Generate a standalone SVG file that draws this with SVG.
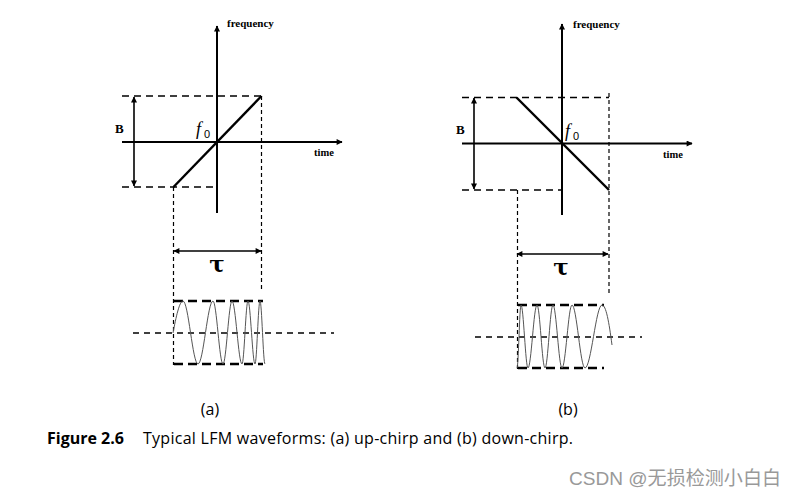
<svg xmlns="http://www.w3.org/2000/svg" width="793" height="496" viewBox="0 0 793 496">
<style>
.ax{stroke:#000;stroke-width:2;fill:none}
.hg{stroke:#000;stroke-width:1.5;stroke-dasharray:7 5;fill:none}
.vg{stroke:#000;stroke-width:1.2;stroke-dasharray:4 3;fill:none}
.rc{stroke:#000;stroke-width:2.6;stroke-dasharray:9 5;fill:none}
.ml{stroke:#000;stroke-width:1.6;stroke-dasharray:6 5;fill:none}
.ch{stroke:#000;stroke-width:2.4;fill:none}
.ar{stroke:#000;stroke-width:1.6;fill:none}
.wv{stroke:#555;stroke-width:1;fill:none}
.lb{font-family:"Liberation Serif",serif;font-weight:bold;fill:#000}
.tau{font-family:"DejaVu Serif",serif;font-weight:bold;font-size:23px;fill:#000;text-anchor:middle}
.fi{font-family:"Liberation Serif",serif;font-style:italic;font-size:18px;fill:#000}
.f0{font-family:"Liberation Sans",sans-serif;font-size:11px;fill:#000}
.cap{font-family:"Open Sans",sans-serif;font-size:16px;fill:#000}
</style>
<defs>
<marker id="ah" viewBox="0 0 10 10" refX="9" refY="5" markerWidth="7" markerHeight="6" markerUnits="userSpaceOnUse" orient="auto-start-reverse">
<path d="M0,0 L10,5 L0,10 z" fill="#000"/>
</marker>
</defs>
<rect width="793" height="496" fill="#fff"/>

<g id="panel-a">
<g id="a-axes">
<line class="ax" x1="217" y1="213" x2="217" y2="26" marker-end="url(#ah)"/>
<line class="ax" x1="122" y1="142" x2="342" y2="142" marker-end="url(#ah)"/>
<text class="lb" x="227" y="27" font-size="11">frequency</text>
<text class="lb" x="314" y="156" font-size="10.5">time</text>
</g>
<g id="a-guides">
<line class="hg" x1="122" y1="96" x2="262" y2="96"/>
<line class="hg" x1="122" y1="187" x2="217" y2="187"/>
<line class="vg" x1="173.5" y1="187" x2="173.5" y2="365"/>
<line class="vg" x1="261.5" y1="96" x2="261.5" y2="292"/>
</g>
<line id="a-chirp" class="ch" x1="173.5" y1="187" x2="261.5" y2="96"/>
<g id="a-B">
<line class="ar" x1="134" y1="97" x2="134" y2="186" marker-start="url(#ah)" marker-end="url(#ah)"/>
<text class="lb" x="115" y="133" font-size="13">B</text>
</g>
<g id="a-f0"><text class="fi" x="196" y="135">f</text><text class="f0" x="204" y="138">0</text></g>
<g id="a-tau">
<line class="ar" x1="174" y1="251" x2="261" y2="251" marker-start="url(#ah)" marker-end="url(#ah)"/>
<text class="tau" x="217" y="272">τ</text>
</g>
<g id="a-wave">
<line class="rc" x1="174" y1="301" x2="263" y2="301"/>
<line class="rc" x1="174" y1="364" x2="263" y2="364"/>
<line class="ml" x1="133" y1="333" x2="334" y2="333"/>
<path class="wv" d="M173,333 C176,317 179.5,301 183,301 C188.4,301 192.6,364 198,364 C203.4,364 207.6,301 213,301 C216.6,301 219.4,364 223,364 C226.2,364 228.8,301 232,301 C235.6,301 238.4,364 242,364 C244.2,364 245.8,301 248,301 C250.5,301 252.5,364 255,364 C256.8,364 258.2,301 260,301 C261.8,301 263.2,364 265,364"/>
</g>
<text id="a-label" class="cap" x="210" y="415" text-anchor="middle">(a)</text>
</g>

<g id="panel-b">
<g id="b-axes">
<line class="ax" x1="562" y1="215" x2="562" y2="24" marker-end="url(#ah)"/>
<line class="ax" x1="462" y1="143.5" x2="692" y2="143.5" marker-end="url(#ah)"/>
<text class="lb" x="573" y="28" font-size="11">frequency</text>
<text class="lb" x="663" y="158" font-size="10.5">time</text>
</g>
<g id="b-guides">
<line class="hg" x1="462" y1="97.5" x2="609" y2="97.5"/>
<line class="hg" x1="462" y1="190" x2="562" y2="190"/>
<line class="vg" x1="517.5" y1="190" x2="517.5" y2="369"/>
<line class="vg" x1="609" y1="93" x2="609" y2="295"/>
</g>
<line id="b-chirp" class="ch" x1="516.5" y1="97.5" x2="609" y2="190"/>
<g id="b-B">
<line class="ar" x1="474" y1="98" x2="474" y2="189" marker-start="url(#ah)" marker-end="url(#ah)"/>
<text class="lb" x="456" y="134" font-size="13">B</text>
</g>
<g id="b-f0"><text class="fi" x="565" y="137">f</text><text class="f0" x="573" y="140">0</text></g>
<g id="b-tau">
<line class="ar" x1="517" y1="254" x2="608" y2="254" marker-start="url(#ah)" marker-end="url(#ah)"/>
<text class="tau" x="561" y="275">τ</text>
</g>
<g id="b-wave">
<line class="rc" x1="518" y1="305" x2="604" y2="305"/>
<line class="rc" x1="518" y1="368" x2="604" y2="368"/>
<line class="ml" x1="475" y1="337" x2="642" y2="337"/>
<path class="wv" d="M517,368 C518.4,368 519.6,305 521,305 C523.5,305 525.5,368 528,368 C531.2,368 533.8,305 537,305 C539.9,305 542.1,368 545,368 C547.9,368 550.1,305 553,305 C556.2,305 558.8,368 562,368 C565.6,368 568.4,305 572,305 C576.7,305 580.3,368 585,368 C591.1,368 595.9,305 602,305 C606,305 609,322 612,345"/>
</g>
<text id="b-label" class="cap" x="568" y="415" text-anchor="middle">(b)</text>
</g>

<g id="caption">
<text class="cap" x="47" y="444" font-weight="bold">Figure 2.6</text>
<text class="cap" x="143" y="444" textLength="430" lengthAdjust="spacing">Typical LFM waveforms: (a) up-chirp and (b) down-chirp.</text>
</g>
<text id="watermark" x="569" y="485" font-family="'Liberation Sans','Noto Sans CJK SC',sans-serif" font-size="19" fill="#999" textLength="212" lengthAdjust="spacingAndGlyphs">CSDN @无损检测小白白</text>
</svg>
